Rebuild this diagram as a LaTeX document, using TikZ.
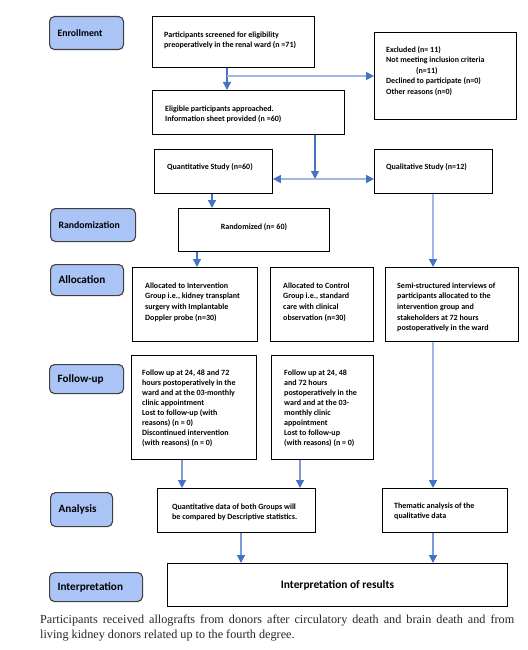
\documentclass[tikz,border=0pt]{standalone}
\usepackage{fontspec}
\setmainfont{Carlito}
\newfontfamily\capfont{Liberation Serif}
\usetikzlibrary{arrows.meta}
\definecolor{stagefill}{HTML}{A9C4F5}
\definecolor{stageline}{HTML}{3F3F3F}
\definecolor{arrdark}{HTML}{4472C4}
\definecolor{arrlight}{HTML}{A3B8E6}
\definecolor{arrmid}{HTML}{7E9BD8}
\definecolor{captext}{HTML}{262626}
\begin{document}
\begin{tikzpicture}[x=1pt,y=-1pt,
  box/.style={draw=black, line width=0.9pt, inner sep=0pt, anchor=north west},
  stage/.style={draw=stageline, fill=stagefill, line width=1.1pt, rounded corners=5pt, anchor=north west, inner xsep=8pt, inner ysep=0pt, align=left},
  stagesmall/.style={stage, font=\bfseries\fontsize{9.8}{11}\selectfont},
  stagebig/.style={stage, font=\bfseries\fontsize{11.2}{13}\selectfont},
  txt/.style={anchor=north west, inner sep=0pt, align=left, font=\bfseries\fontsize{8}{10}\selectfont},
  txtw/.style={anchor=north west, inner sep=0pt, align=left, font=\bfseries\fontsize{8}{10.6}\selectfont},
  tipd/.style={-{Triangle[width=8pt,length=8pt,color=arrdark]}},
  arr/.style={line width=1.3pt, draw=arrdark, tipd},
  arrl/.style={line width=1.6pt, draw=arrlight, tipd},
  arrm/.style={line width=1.4pt, draw=arrmid, tipd}
]
\fill[white] (0,0) rectangle (527,650);
\useasboundingbox (0,0) rectangle (527,650);

% stage labels
\node[stagesmall, minimum width=74pt, text width=58pt, minimum height=33pt] (sEnroll) at (49,16) {Enrollment};
\node[stagesmall, minimum width=85pt, text width=69pt, minimum height=33pt] (sRand) at (50,208) {Randomization};
\node[stagebig, minimum width=73pt, text width=57pt, minimum height=31pt] (sAlloc) at (50,264) {Allocation};
\node[stagebig, minimum width=74pt, text width=58pt, minimum height=29pt] (sFollow) at (49,364) {Follow-up};
\node[stagebig, minimum width=62pt, text width=46pt, minimum height=34pt] (sAnal) at (50,492) {Analysis};
\node[stagebig, minimum width=93pt, text width=77pt, minimum height=29pt] (sInterp) at (49,572) {Interpretation};

% boxes
\node[box, minimum width=162pt, minimum height=51pt] (screen) at (152,16) {};
\node[box, minimum width=142pt, minimum height=87pt] (excl) at (374,32) {};
\node[box, minimum width=192pt, minimum height=44pt] (elig) at (152,90) {};
\node[box, minimum width=118pt, minimum height=44pt] (quant) at (154,149) {};
\node[box, minimum width=118pt, minimum height=44pt] (qual) at (374,149) {};
\node[box, minimum width=151pt, minimum height=43pt] (rand) at (178,208) {};
\node[box, minimum width=125pt, minimum height=74pt] (alloc1) at (132,267) {};
\node[box, minimum width=103pt, minimum height=74pt] (alloc2) at (270,267) {};
\node[box, minimum width=133pt, minimum height=74pt] (semi) at (385,267) {};
\node[box, minimum width=125pt, minimum height=104pt] (fu1) at (131,355) {};
\node[box, minimum width=102pt, minimum height=104pt] (fu2) at (271,355) {};
\node[box, minimum width=158pt, minimum height=44pt] (qa) at (157,488) {};
\node[box, minimum width=125pt, minimum height=44pt] (them) at (382,488) {};
\node[box, minimum width=340pt, minimum height=43pt, font=\bfseries\fontsize{11.4}{13}\selectfont] (interp) at (167,563) {Interpretation of results};

% box texts
\node[txt] (tScreen) at (164,31.5) {Participants screened for eligibility\\preoperatively in the renal ward (n =71)};
\node[txtw] (tExcl) at (386,46) {Excluded (n= 11)\\Not meeting inclusion criteria\\\hspace*{30pt}(n=11)\\Declined to participate (n=0)\\Other reasons (n=0)};
\node[txt] (tElig) at (165,105.5) {Eligible participants approached.\\Information sheet provided (n =60)};
\node[txt, anchor=west] (tQuant) at (167,167.5) {Quantitative Study (n=60)};
\node[txt, anchor=west] (tQual) at (386,167.5) {Qualitative Study (n=12)};
\node[txt, anchor=center] (tRand) at (254,227.5) {Randomized (n= 60)};
\node[txtw] (tAlloc1) at (145,282.5) {Allocated to Intervention\\Group i.e., kidney transplant\\surgery with Implantable\\Doppler probe (n=30)};
\node[txtw] (tAlloc2) at (283,282.5) {Allocated to Control\\Group i.e., standard\\care with clinical\\observation (n=30)};
\node[txtw] (tSemi) at (397,282.5) {Semi-structured interviews of\\participants allocated to the\\intervention group and\\stakeholders at 72 hours\\postoperatively in the ward};
\node[txt] (tFu1) at (142,370) {Follow up at 24, 48 and 72\\hours postoperatively in the\\ward and at the 03-monthly\\clinic appointment\\Lost to follow-up (with\\reasons) (n = 0)\\Discontinued intervention\\(with reasons) (n = 0)};
\node[txt] (tFu2) at (284,370) {Follow up at 24, 48\\and 72 hours\\postoperatively in the\\ward and at the 03-\\monthly clinic\\appointment\\Lost to follow-up\\(with reasons) (n = 0)};
\node[txtw] (tQa) at (172,503.5) {Quantitative data of both Groups will\\be compared by Descriptive statistics.};
\node[txt] (tThem) at (394,502.5) {Thematic analysis of the\\qualitative data};

% connectors
\coordinate (c1) at (227,0);
\draw[arr] (c1 |- screen.south) -- (c1 |- elig.north);
\coordinate (b1) at (227,76);
\draw[arrl] (b1) -- (b1 -| excl.west);
\coordinate (c2) at (315,179);
\draw[arr] (c2 |- elig.south) -- (c2);
\draw[arrl] (c2) -- (c2 -| quant.east);
\draw[arrl] (c2) -- (c2 -| qual.west);
\coordinate (c3) at (212,0);
\draw[arr] (c3 |- quant.south) -- (c3 |- rand.north);
\coordinate (c4) at (197,0);
\draw[arr] (c4 |- rand.south) -- (c4 |- alloc1.north);
\coordinate (c5) at (433,0);
\draw[arrl] (c5 |- qual.south) -- (c5 |- semi.north);
\draw[arrl] (c5 |- semi.south) -- (c5 |- them.north);
\coordinate (c6) at (182,0);
\draw[arrm] (c6 |- fu1.south) -- (c6 |- qa.north);
\coordinate (c7) at (300,0);
\draw[arrm] (c7 |- fu2.south) -- (c7 |- qa.north);
\coordinate (c8) at (241,0);
\draw[arrm] (c8 |- qa.south) -- (c8 |- interp.north);
\draw[arrm] (c5 |- them.south) -- (c5 |- interp.north);

% caption
\node[anchor=north west, inner sep=0pt, text width=474pt, align=justify, text=captext, font=\capfont\fontsize{12.2}{15}\selectfont] (cap) at (40,615) {Participants received allografts from donors after circulatory death and brain death and from\linebreak living kidney donors related up to the fourth degree.};
\end{tikzpicture}
\end{document}
